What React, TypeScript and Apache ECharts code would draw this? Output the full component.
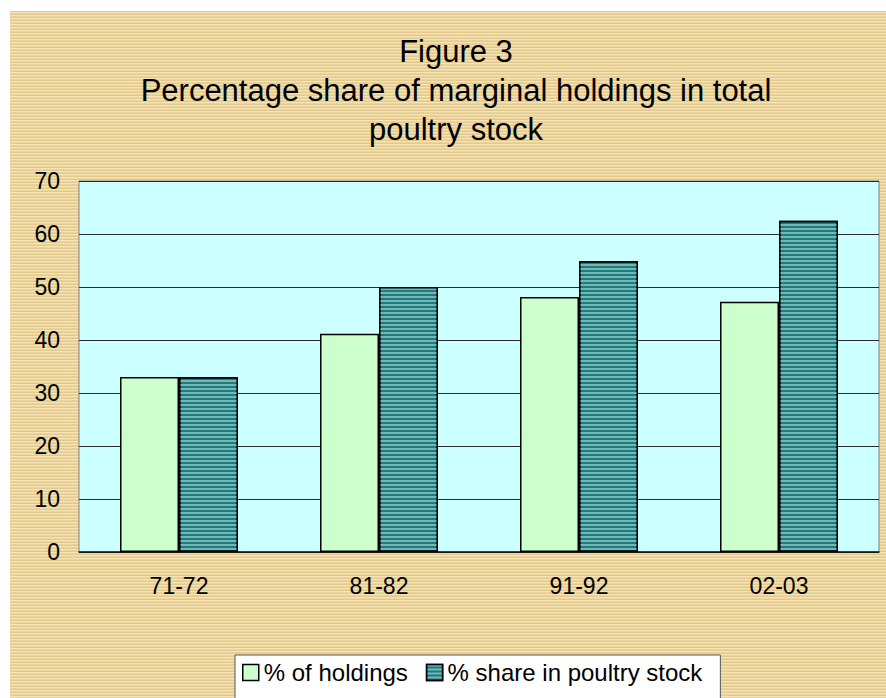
import React, { useEffect, useRef } from "react";
import * as echarts from "echarts";

const categories = ["71-72", "81-82", "91-92", "02-03"];
const holdings = [33, 41.2, 48.1, 47.2];
const poultryShare = [33, 50, 54.9, 62.5];
const yTicks = { min: 0, max: 70, interval: 10 };
const titleLines = ["Figure 3", "Percentage share of marginal holdings in total", "poultry stock"];
const seriesNames = ["% of holdings", "% share in poultry stock"];

const FONT = "'Liberation Sans', Arial, sans-serif";

export default function App() {
  const ref = useRef<HTMLDivElement>(null);
  useEffect(() => {
    const chart = echarts.init(ref.current!, null, { renderer: "svg" });
    chart.setOption({
      animation: false,
      backgroundColor: "transparent",
      title: {
        text: titleLines.join("\n"),
        left: 456,
        top: 32,
        textAlign: "center",
        padding: 0,
        textStyle: {
          fontFamily: FONT,
          fontSize: 31,
          fontWeight: "normal",
          color: "#000",
          lineHeight: 39,
        },
      },
      legend: {
        left: 235,
        top: 655,
        orient: "horizontal",
        icon: "rect",
        itemWidth: 16,
        itemHeight: 16,
        itemGap: 18,
        padding: [5, 18, 40, 7],
        backgroundColor: "#fff",
        borderColor: "#555",
        borderWidth: 1,
        textStyle: { fontFamily: FONT, fontSize: 24, color: "#000", lineHeight: 25 },
        itemStyle: { borderColor: "#000", borderWidth: 1.5 },
        data: seriesNames,
      },
      grid: {
        left: 79,
        top: 181,
        right: 7,
        bottom: 146,
        show: true,
        backgroundColor: "#CCFFFF",
        borderColor: "#808080",
        borderWidth: 1,
      },
      xAxis: {
        type: "category",
        data: categories,
        axisTick: { show: false },
        axisLine: { lineStyle: { color: "#111", width: 1.5 } },
        axisLabel: { fontFamily: FONT, fontSize: 23, color: "#000", margin: 22 },
      },
      yAxis: {
        type: "value",
        min: yTicks.min,
        max: yTicks.max,
        interval: yTicks.interval,
        axisLine: { show: false },
        axisTick: { show: false },
        axisLabel: { fontFamily: FONT, fontSize: 23, color: "#000", margin: 19 },
        splitLine: { lineStyle: { color: "#2a2a2a", width: 1 } },
      },
      series: [
        {
          name: seriesNames[0],
          type: "bar",
          data: holdings,
          barWidth: 59,
          barGap: "0%",
          itemStyle: { color: "#CCFFCC", borderColor: "#000", borderWidth: 1.5 },
        },
        {
          name: seriesNames[1],
          type: "bar",
          data: poultryShare,
          barWidth: 59,
          barGap: "0%",
          itemStyle: {
            color: "#187e7e",
            borderColor: "#000",
            borderWidth: 1.5,
            decal: {
              symbol: "rect",
              symbolSize: 1,
              dashArrayX: [1, 0],
              dashArrayY: [2, 2],
              rotation: 0,
              color: "#78b4b4",
            },
          },
        },
      ],
    });
    return () => chart.dispose();
  }, []);

  return (
    <div
      style={{
        position: "fixed",
        left: 0,
        top: 0,
        width: 886,
        height: 698,
        background: "#fff",
        overflow: "hidden",
      }}
    >
      <div
        style={{
          position: "absolute",
          left: 10,
          top: 11,
          right: 0,
          bottom: 0,
          backgroundColor: "#EBD6A0",
          backgroundImage:
            "repeating-linear-gradient(180deg, #E4C987 0px, #E4C987 1px, #F3E4BC 1px, #F3E4BC 2px, #EAD49C 2px, #EAD49C 3px)",
        }}
      />
      <div ref={ref} style={{ position: "absolute", left: 0, top: 0, width: 886, height: 698 }} />
    </div>
  );
}
